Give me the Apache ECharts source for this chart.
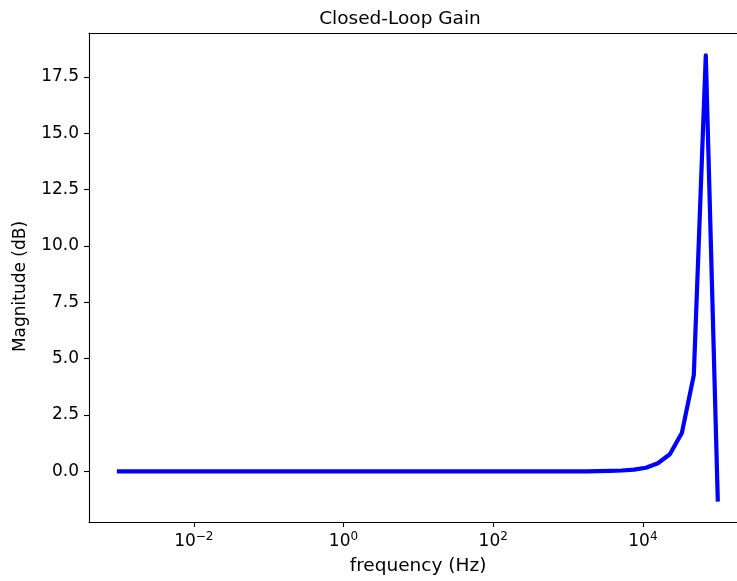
<!DOCTYPE html>
<html>
<head>
<meta charset="utf-8">
<script src="https://cdn.jsdelivr.net/npm/echarts@6/dist/echarts.min.js"></script>
<style>
  html, body { margin: 0; padding: 0; background: #fff; }
  #chart { width: 737px; height: 581px; }
</style>
</head>
<body>
<div id="chart"></div>
<script>
// Frequency sweep (Hz), log-spaced from 1 mHz to 100 kHz
const frequencies = [
  1.000e-3, 1.445e-3, 2.089e-3, 3.020e-3, 4.365e-3, 6.310e-3, 9.120e-3,
  1.318e-2, 1.905e-2, 2.754e-2, 3.981e-2, 5.754e-2, 8.318e-2,
  1.202e-1, 1.738e-1, 2.512e-1, 3.631e-1, 5.248e-1, 7.586e-1,
  1.0965, 1.585, 2.291, 3.311, 4.786, 6.918,
  10, 14.45, 20.89, 30.20, 43.65, 63.10, 91.20,
  131.8, 190.5, 275.4, 398.1, 575.4, 831.8,
  1202, 1738, 2512, 3631, 5248, 7586,
  10965, 15849, 22909, 33113, 47863, 69183, 100000
];

// Closed-loop magnitude (dB) at each frequency
const magnitudeDb = [
  0, 0, 0, 0, 0, 0, 0,
  0, 0, 0, 0, 0, 0,
  0, 0, 0, 0, 0, 0,
  0, 0, 0, 0, 0, 0,
  0, 0, 0, 0, 0, 0, 0,
  0, 0, 0, 0, 0, 0,
  0, 0, 0.01, 0.02, 0.04, 0.08,
  0.16, 0.36, 0.76, 1.70, 4.27, 18.45, -1.25
];

// Axis tick positions
const xTicks = [1e-2, 1, 1e2, 1e4];
const yTicks = [0, 2.5, 5, 7.5, 10, 12.5, 15, 17.5];

const FONT = 'DejaVu Sans';
const BLACK = '#000';

// Log range of the frequency axis: the plot box runs past the right edge of the page
const LOG_MIN = -3.4;
const LOG_MAX = 5.257;

const chart = echarts.init(document.getElementById('chart'), null, { renderer: 'canvas' });

const spine = { show: true, onZero: false, lineStyle: { color: BLACK, width: 1.1 } };

chart.setOption({
  animation: false,
  backgroundColor: '#ffffff',
  title: {
    text: 'Closed-Loop Gain',
    left: 395,
    top: 5,
    textAlign: 'center',
    textStyle: { fontFamily: FONT, fontSize: 18.5, fontWeight: 'normal', color: BLACK }
  },
  grid: {
    left: 89,
    top: 33,
    right: 0,
    bottom: 53.5,
    show: false,
    containLabel: false
  },
  xAxis: [{
    type: 'log',
    logBase: 10,
    position: 'bottom',
    min: Math.pow(10, LOG_MIN),
    max: Math.pow(10, LOG_MAX),
    name: 'frequency (Hz)',
    nameLocation: 'middle',
    nameGap: 35,
    nameTextStyle: { fontFamily: FONT, fontSize: 18.5, color: BLACK, padding: [0, 0, 0, 10] },
    splitLine: { show: false },
    minorTick: { show: false },
    axisLine: spine,
    axisTick: {
      show: true, length: 5, inside: false,
      customValues: xTicks,
      lineStyle: { color: BLACK, width: 1.1 }
    },
    axisLabel: {
      margin: 9,
      customValues: xTicks,
      fontFamily: FONT,
      fontSize: 17,
      color: BLACK,
      formatter: function (v) {
        const e = Math.round(Math.log10(v));
        const s = String(e).replace('-', '\u2212');
        return '{b|10}{s|' + s + '}';
      },
      rich: {
        b: { fontFamily: FONT, fontSize: 17, color: BLACK, verticalAlign: 'bottom' },
        s: { fontFamily: FONT, fontSize: 12, color: BLACK, verticalAlign: 'top', padding: [0, 0, 7, 0] }
      }
    }
  }, {
    // top spine of the plot box
    type: 'log',
    logBase: 10,
    position: 'top',
    min: Math.pow(10, LOG_MIN),
    max: Math.pow(10, LOG_MAX),
    axisLine: spine,
    axisTick: { show: false },
    axisLabel: { show: false },
    splitLine: { show: false },
    minorTick: { show: false }
  }],
  yAxis: {
    type: 'value',
    min: -2.245,
    max: 19.444,
    name: 'Magnitude (dB)',
    nameLocation: 'middle',
    nameGap: 60,
    nameTextStyle: { fontFamily: FONT, fontSize: 17, color: BLACK, padding: [0, 18, 0, 0] },
    splitLine: { show: false },
    axisLine: spine,
    axisTick: {
      show: true, length: 5, inside: false,
      customValues: yTicks,
      lineStyle: { color: BLACK, width: 1.1 }
    },
    axisLabel: {
      margin: 10,
      customValues: yTicks,
      fontFamily: FONT,
      fontSize: 17,
      color: BLACK,
      formatter: function (v) { return v.toFixed(1); }
    }
  },
  series: [{
    type: 'line',
    xAxisIndex: 0,
    data: frequencies.map((f, i) => [f, magnitudeDb[i]]),
    showSymbol: false,
    symbol: 'none',
    clip: false,
    lineStyle: { color: '#0000ff', width: 4.2, cap: 'square', join: 'round' },
    emphasis: { disabled: true }
  }]
});
</script>
</body>
</html>
